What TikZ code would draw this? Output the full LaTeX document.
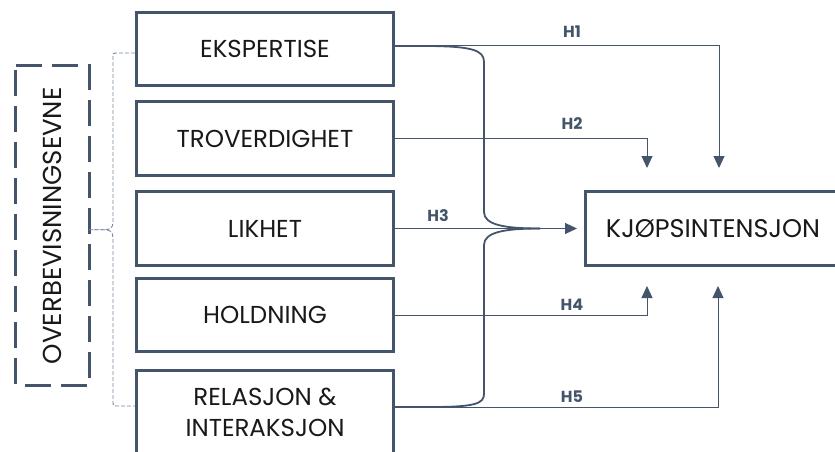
\documentclass[tikz,border=0pt]{standalone}
\usepackage{fontspec}
\setmainfont{Poppins}
\usetikzlibrary{arrows.meta}
\definecolor{navy}{RGB}{68,84,106}
\definecolor{brk}{RGB}{118,136,160}
\begin{document}
\begin{tikzpicture}[x=1pt,y=-1pt,
  box/.style={draw=navy, line width=3pt, inner sep=0pt, text=black!90, align=center,
    font=\fontsize{24.5}{31}\selectfont, minimum width=257pt},
  link/.style={draw=navy, line width=1pt},
  curv/.style={draw=navy, line width=1.8pt},
  arr/.style={-{Triangle[length=12pt,width=11pt]}},
  brace/.style={draw=brk, line width=0.9pt, dash pattern=on 4pt off 2pt},
  hlab/.style={text=navy, inner sep=0pt, font=\bfseries\fontsize{16}{18}\selectfont}]
\useasboundingbox (0,0) rectangle (835,452);
\clip (0,0) rectangle (835,452);
% left boxes
\node[box, minimum height=73pt] (eks) at (265,49) {EKSPERTISE};
\node[box, minimum height=74pt] (tro) at (265,138.5) {TROVERDIGHET};
\node[box, minimum height=74pt] (lik) at (265,228.5) {LIKHET};
\node[box, minimum height=73pt] (hol) at (265,315) {HOLDNING};
\node[box, minimum height=84pt] (rel) at (265,412.5) {RELASJON \&\\INTERAKSJON};
% target box
\node[box, minimum width=255pt, minimum height=74pt, font=\fontsize{25.5}{31}\selectfont] (kj) at (713,228.5) {KJØPSINTENSJON};
% group box
\node[inner sep=0pt, minimum width=73pt, minimum height=319.5pt, text=black!90,
  font=\fontsize{26}{30}\selectfont] (over) at (52.5,225.75) {\rotatebox{90}{OVERBEVISNINGSEVNE}};
\draw[navy, line width=3pt, dash pattern=on 26pt off 10pt]
  (over.north west) -- (over.north east) -- (over.south east) -- (over.south west) -- cycle;
% brace
\coordinate (tip) at ([yshift=-4pt]over.east);
\draw[brace] ([yshift=-4pt]eks.west) -- (118,53) .. controls (113,53) .. (113,58) -- (113,222)
  .. controls (113,228) and (110,229.75) .. (104,229.75) -- (tip);
\draw[brace] (tip) -- (104,229.75) .. controls (110,229.75) and (113,232) .. (113,238) -- (113,401)
  .. controls (113,406) .. (118,406) -- ([yshift=6.5pt]rel.west);
% target points
\coordinate (t1) at (719,168);
\coordinate (t2) at (647,168);
\coordinate (t4) at (647,286);
\coordinate (t5) at (718,286);
% curved merges
\draw[curv] ([yshift=3pt]eks.east) -- (423,46) .. controls (472,46) and (484,50) .. (484,62) -- (484,212)
  .. controls (484,225) and (505,228.5) .. (540,228.5);
\draw[curv] ([yshift=5.5pt]rel.east) -- (430,407) .. controls (474,407) and (484,404) .. (484,394) -- (484,245)
  .. controls (484,232) and (505,228.5) .. (540,228.5);
% hypotheses
\draw[link, arr] ([yshift=3pt]eks.east) -| (t1);
\draw[link, arr] (tro.east) -| (t2);
\draw[link, arr, shorten >=7pt] (lik.east) -- (kj.west);
\draw[link, arr] (hol.east) -| (t4);
\draw[link, arr] ([yshift=5.5pt]rel.east) -| (t5);
% labels
\node[hlab] (h1) at (572,32) {H1};
\node[hlab] (h2) at (572,124) {H2};
\node[hlab] (h3) at (438,216) {H3};
\node[hlab] (h4) at (572,305) {H4};
\node[hlab] (h5) at (572,396.5) {H5};
\end{tikzpicture}
\end{document}
